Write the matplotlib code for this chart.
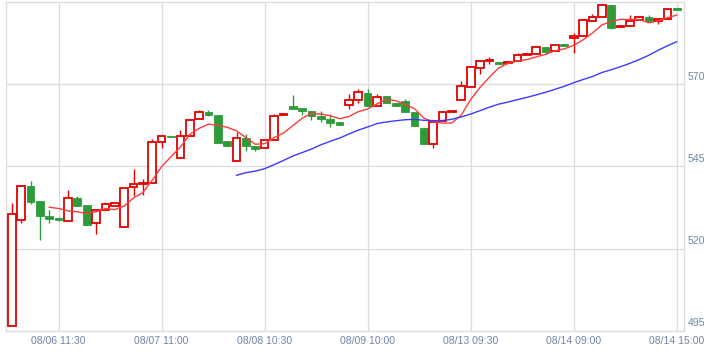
import numpy as np
import pandas as pd
import matplotlib
matplotlib.use('Agg')
import matplotlib.pyplot as plt
from matplotlib.transforms import offset_copy

# 30 minute bars
opens = [496.3, 528.6, 539.1, 534.5, 529.9, 529.3, 528.3, 535.4, 533.3, 527.8,
         531.8, 533.0, 526.6, 538.7, 539.6, 539.9, 552.4, 554.0, 547.5, 554.3,
         559.4, 561.5, 560.7, 552.8, 546.7, 553.6, 551.2, 550.6, 553.0, 560.5,
         563.4, 562.7, 561.7, 560.4, 559.4, 558.5, 563.6, 565.1, 567.4, 563.5,
         566.4, 564.4, 565.0, 561.5, 556.7, 551.8, 558.9, 561.6, 565.3, 569.0,
         574.9, 577.0, 576.7, 576.3, 577.0, 578.9, 579.1, 581.2, 580.0, 582.2,
         584.0, 584.7, 589.3, 590.4, 594.1, 587.3, 587.7, 589.5, 590.4, 589.3,
         589.9, 592.9]
highs = [533.8, 539.1, 540.6, 534.5, 531.8, 529.5, 537.9, 536.1, 533.3, 532.0,
         534.1, 533.8, 538.4, 544.2, 541.1, 553.3, 554.1, 554.0, 556.1, 559.1,
         562.2, 562.0, 560.7, 552.8, 555.5, 554.8, 551.2, 553.0, 560.8, 560.7,
         566.7, 562.7, 561.7, 561.7, 560.9, 558.5, 567.1, 568.5, 568.5, 567.0,
         566.4, 564.4, 565.5, 561.5, 556.7, 558.5, 561.5, 561.9, 570.9, 575.6,
         577.0, 578.2, 576.7, 576.4, 579.4, 579.1, 581.2, 581.2, 581.8, 582.2,
         585.5, 589.4, 591.3, 594.0, 594.1, 587.7, 591.1, 590.3, 591.1, 589.9,
         593.2, 592.9]
lows = [496.3, 527.8, 533.5, 522.5, 527.8, 528.4, 528.3, 533.0, 527.3, 524.4,
        531.8, 533.0, 526.6, 536.1, 536.3, 539.9, 550.6, 553.8, 547.5, 554.3,
        559.4, 560.2, 552.1, 551.3, 546.7, 549.6, 549.6, 550.6, 553.0, 560.5,
        562.4, 560.6, 559.0, 558.6, 557.1, 557.7, 562.4, 564.2, 563.5, 563.5,
        564.2, 563.5, 561.5, 557.4, 551.8, 550.6, 558.9, 561.6, 565.3, 569.0,
        573.0, 576.2, 576.0, 576.3, 577.0, 578.9, 579.1, 579.2, 580.0, 581.7,
        579.4, 584.7, 589.3, 590.4, 586.7, 587.3, 587.7, 589.5, 589.2, 588.2,
        589.9, 592.7]
closes = [530.5, 539.1, 534.3, 529.8, 529.1, 528.6, 535.4, 533.0, 527.3, 531.6,
          533.5, 533.8, 538.4, 539.6, 539.9, 552.4, 554.1, 553.8, 554.2, 559.1,
          561.5, 560.5, 552.1, 551.3, 553.6, 551.3, 550.3, 553.0, 560.4, 560.7,
          562.4, 561.7, 560.2, 559.5, 558.3, 557.7, 565.1, 567.6, 563.5, 566.2,
          564.2, 563.5, 561.5, 557.4, 551.8, 558.5, 561.5, 561.9, 569.5, 575.2,
          577.0, 577.1, 576.0, 576.4, 578.8, 579.1, 581.2, 579.9, 581.8, 581.7,
          584.6, 589.4, 590.3, 594.0, 587.2, 587.7, 589.1, 590.3, 589.2, 589.9,
          592.8, 592.7]

x_labels = ['08/06 11:30', '08/07 11:00', '08/08 10:30', '08/09 10:00',
            '08/13 09:30', '08/14 09:00', '08/14 15:00']
x_label_pos = [5, 16, 27, 38, 49, 60, 71]
y_ticks = [495, 520, 545, 570]

UP = '#e00000'
DOWN = '#2e9b3b'
GRID = '#dcdcdc'
LABEL = '#6f86a8'


def plot_candles(ax, df):
    """Draw hollow red up bars and filled green down bars"""
    w = 0.82
    min_h = 0.35
    for i, r in df.iterrows():
        top = max(r['open'], r['close'])
        bot = min(r['open'], r['close'])
        h = max(top - bot, min_h)
        if r['close'] >= r['open']:
            ax.vlines(i, top, r['high'], color=UP, lw=1.0, zorder=2)
            ax.vlines(i, r['low'], bot, color=UP, lw=1.0, zorder=2)
            ax.bar(i, h, bottom=bot, width=w, facecolor='white',
                   edgecolor=UP, linewidth=1.3, zorder=3)
        else:
            ax.vlines(i, r['low'], r['high'], color=DOWN, lw=1.0, zorder=2)
            ax.bar(i, h, bottom=bot, width=w, facecolor=DOWN,
                   edgecolor=DOWN, linewidth=0.6, zorder=3)


df = pd.DataFrame({'open': opens, 'high': highs, 'low': lows, 'close': closes})
ma5 = df['close'].rolling(5).mean()
ma25 = df['close'].rolling(25).mean()

fig = plt.figure(figsize=(7.26, 3.55), dpi=100)
ax = fig.add_axes([5.5 / 726, 1 - 330.7 / 355, (684.3 - 5.5) / 726, (330.7 - 2) / 355])

plot_candles(ax, df)
ax.plot(df.index, ma5, color='#ff3b3b', lw=1.0, zorder=4)
ax.plot(df.index, ma25, color='#3a3aff', lw=1.0, zorder=4)

ax.set_xlim(-0.67, 71.81)
ax.set_ylim(495, 595)
ax.set_xticks(x_label_pos)
ax.set_xticklabels(x_labels)
ax.set_yticks(y_ticks)
ax.set_yticklabels([])
ax.tick_params(length=0)
ax.tick_params(axis='x', pad=4, labelsize=7.6, labelcolor=LABEL)
for lab in ax.get_xticklabels():
    lab.set_fontfamily('Liberation Sans')
ax.grid(True, color=GRID, lw=0.9, zorder=0)
ax.set_axisbelow(True)
for sp in ax.spines.values():
    sp.set_color(GRID)
    sp.set_linewidth(0.9)

# price labels sit just above their gridline, outside the right edge
trans = offset_copy(ax.get_yaxis_transform(), fig=fig, x=3.5, y=2.5, units='dots')
for v in y_ticks:
    ax.text(1, v, str(v), transform=trans, ha='left', va='bottom',
            fontsize=7.6, color=LABEL, family='Liberation Sans')

fig.savefig('out.png', dpi=100)
